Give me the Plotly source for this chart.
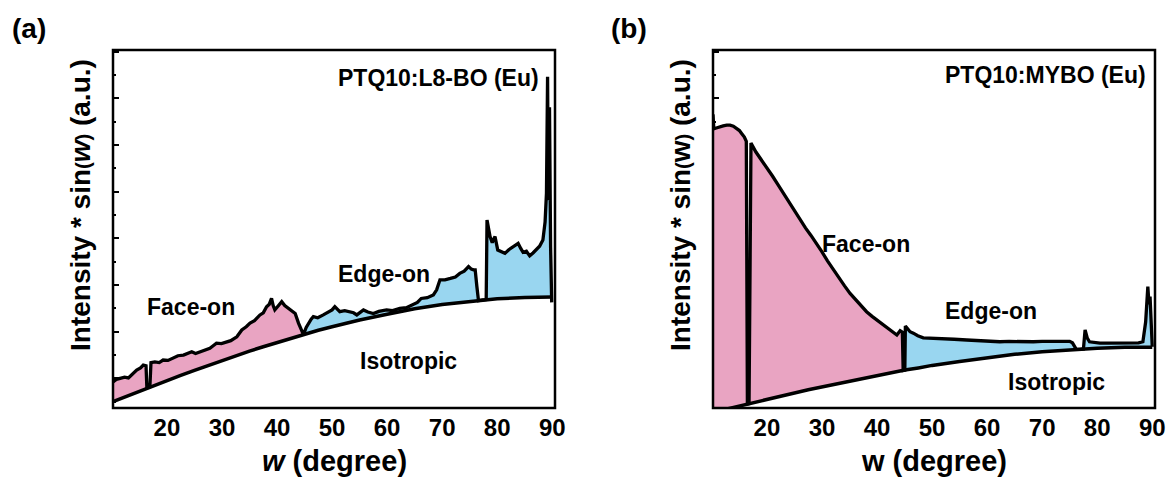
import numpy as np
import plotly.graph_objects as go

# ---------------- data: panel (a) PTQ10:L8-BO (Eu) ----------------
a_w = [10.2, 10.8, 11.5, 12.3, 13.0, 13.9, 14.5, 15.2, 15.7, 16.2, 16.35, 16.55, 16.9, 17.1,
       17.8, 18.6, 19.3, 20.2, 21.2, 22.0, 23.0, 23.8, 24.5, 25.2, 26.0, 26.8, 27.8, 28.4,
       29.0, 29.9, 30.85, 31.6, 32.7, 33.2, 33.6, 34.4, 35.1, 35.9, 36.9, 37.5, 38.1, 38.6,
       39.0, 39.3, 39.6, 40.2, 40.85, 41.4, 42.05, 42.7, 43.3, 43.9, 44.4, 44.8,
       45.3, 45.7, 46.2, 46.6, 47.4, 48.4, 49.3, 50.0, 50.5, 51.0, 51.4, 52.3, 53.2, 53.9,
       54.5, 55.1, 55.7, 56.5, 57.5, 58.5, 59.9, 61.0, 62.3, 63.5, 64.7, 65.5, 66.2, 67.3,
       68.4, 69.0, 69.6, 70.5, 71.5, 72.4, 73.2, 74.0, 74.8, 75.3, 75.7, 76.0, 76.3, 76.6,
       77.4, 78.0, 78.15, 78.4, 78.7, 79.1, 79.6, 80.1, 80.7, 81.4, 82.1, 82.9, 83.8, 84.3,
       84.7, 85.3, 85.9, 86.5, 87.1, 87.7, 88.3, 88.7, 88.95, 89.15, 89.3, 89.5, 89.7, 89.9]
a_total = [0.73, 0.80, 0.83, 0.86, 0.84, 0.97, 1.06, 1.12, 1.20, 1.18, 0.58, 0.57, 0.59, 1.27,
           1.29, 1.27, 1.34, 1.33, 1.40, 1.46, 1.48, 1.53, 1.57, 1.52, 1.57, 1.60, 1.67, 1.74,
           1.81, 1.80, 1.85, 1.88, 1.99, 2.10, 2.18, 2.27, 2.37, 2.44, 2.60, 2.66, 2.83, 2.90,
           3.06, 2.86, 2.74, 2.85, 2.97, 2.86, 2.78, 2.72, 2.64, 2.37, 2.16, 2.05,
           2.25, 2.37, 2.48, 2.55, 2.52, 2.60, 2.68, 2.74, 2.83, 2.76, 2.69, 2.72, 2.69, 2.66,
           2.60, 2.66, 2.74, 2.68, 2.64, 2.70, 2.74, 2.72, 2.78, 2.80, 2.88, 2.95, 3.06, 3.08,
           3.16, 3.30, 3.58, 3.58, 3.62, 3.66, 3.76, 3.82, 3.95, 3.88, 3.86, 3.86, 3.40, 3.00,
           3.02, 3.03, 5.25, 5.00, 4.79, 4.62, 4.79, 4.41, 4.36, 4.32, 4.42, 4.51, 4.60, 4.45,
           4.35, 4.38, 4.25, 4.33, 4.41, 4.52, 4.69, 5.20, 6.00, 9.25, 5.80, 8.40, 4.50, 2.95]
a_iso_w = [10.2, 12.5, 15.0, 16.5, 17.5, 20.0, 22.5, 25.0, 27.5, 30.0, 32.5, 35.0, 37.5, 40.0,
           42.5, 44.8, 47.5, 50.0, 55.0, 60.0, 65.0, 70.0, 75.0, 80.0, 85.0, 89.9]
a_iso = [0.18, 0.32, 0.47, 0.56, 0.62, 0.77, 0.91, 1.05, 1.19, 1.32, 1.46, 1.59, 1.71, 1.83,
         1.95, 2.05, 2.17, 2.27, 2.46, 2.62, 2.77, 2.89, 2.98, 3.05, 3.09, 3.10]
a_face_end, a_edge_start = 44.8, 44.8

# ---------------- data: panel (b) PTQ10:MYBO (Eu) ----------------
b_w = [10.2, 10.35, 10.8, 11.5, 12.05, 12.7, 13.3, 13.9, 14.5, 15.0, 15.4, 15.9, 16.25, 16.45,
       16.75, 17.1, 18.0, 18.9, 19.95, 21.0, 22.0, 22.96, 24.0, 25.0, 26.0, 27.0, 28.0, 29.0,
       30.0, 31.0, 32.1, 33.1, 34.1, 35.1, 36.1, 37.1, 38.1, 39.1, 40.1, 41.15, 42.2, 43.0,
       43.6, 44.2, 44.6, 44.75, 45.05, 45.15, 45.6, 46.0, 46.6, 47.4, 48.4, 49.3, 50.2, 52.0,
       54.0, 56.3, 58.0, 60.0, 62.3, 64.0, 66.0, 68.4, 70.0, 72.0, 73.9, 75.0, 75.5, 76.2,
       77.0, 77.5, 77.8, 78.2, 78.6, 79.5, 80.5, 82.0, 83.5, 85.0, 86.5, 87.5, 88.3, 88.8,
       89.2, 89.4, 89.6, 89.8, 90.0]
b_total = [8.20, 7.80, 7.82, 7.86, 7.88, 7.90, 7.90, 7.87, 7.81, 7.75, 7.67, 7.57, 7.45, 0.11,
           0.12, 7.40, 7.15, 6.95, 6.74, 6.48, 6.24, 6.00, 5.75, 5.50, 5.25, 5.03, 4.82, 4.60,
           4.36, 4.11, 3.85, 3.62, 3.41, 3.20, 3.02, 2.85, 2.69, 2.56, 2.44, 2.32, 2.20, 2.10,
           2.04, 2.16, 2.12, 1.05, 1.06, 2.29, 2.20, 2.13, 2.09, 2.02, 1.96, 1.95, 1.94, 1.93,
           1.92, 1.90, 1.88, 1.87, 1.85, 1.86, 1.85, 1.85, 1.86, 1.86, 1.87, 1.86, 1.82, 1.64,
           1.645, 1.65, 2.18, 1.95, 1.85, 1.82, 1.81, 1.81, 1.81, 1.80, 1.81, 1.82, 1.85, 2.40,
           3.39, 2.90, 3.11, 2.30, 1.71]
b_iso_w = [10.2, 12.5, 15.0, 16.45, 16.75, 17.5, 20.0, 22.5, 25.0, 27.5, 30.0, 32.5, 35.0, 37.5,
           40.0, 42.5, 44.75, 45.05, 47.5, 50.0, 55.0, 60.0, 65.0, 70.0, 75.0, 80.0, 85.0, 90.0]
b_iso = [-0.12, -0.04, 0.06, 0.11, 0.12, 0.15, 0.24, 0.33, 0.42, 0.51, 0.59, 0.68, 0.76, 0.84,
         0.91, 0.98, 1.05, 1.06, 1.12, 1.19, 1.30, 1.41, 1.50, 1.57, 1.63, 1.67, 1.70, 1.70]
b_face_end, b_edge_start = 44.75, 45.05

x_ticks = [20, 30, 40, 50, 60, 70, 80, 90]
PINK = "#E9A4C2"
BLUE = "#99D6F0"
FONT = "Liberation Sans, Arial, Helvetica, sans-serif"
W, H = 1172, 484

fig = go.Figure()


def add_panel(w, total, iw, iso, face_end, edge_start, xa, ya):
    w = np.asarray(w); total = np.asarray(total)
    iw = np.asarray(iw); iso = np.asarray(iso)
    segs = [(w <= face_end, iw <= face_end, PINK),
            (w >= edge_start, iw >= edge_start, BLUE)]
    for mt, mi, col in segs:
        fig.add_trace(go.Scatter(x=iw[mi], y=iso[mi], mode="lines", line=dict(width=0),
                                 hoverinfo="skip", showlegend=False, xaxis=xa, yaxis=ya))
        fig.add_trace(go.Scatter(x=w[mt], y=total[mt], mode="lines", line=dict(width=0),
                                 fill="tonexty", fillcolor=col, hoverinfo="skip",
                                 showlegend=False, xaxis=xa, yaxis=ya))
    fig.add_trace(go.Scatter(x=iw, y=iso, mode="lines", line=dict(color="black", width=3.5),
                             showlegend=False, xaxis=xa, yaxis=ya, name="Isotropic"))
    fig.add_trace(go.Scatter(x=w, y=total, mode="lines",
                             line=dict(color="black", width=3.3, shape="linear"),
                             showlegend=False, xaxis=xa, yaxis=ya, name="Total"))


add_panel(a_w, a_total, a_iso_w, a_iso, a_face_end, a_edge_start, "x", "y")
add_panel(b_w, b_total, b_iso_w, b_iso, b_face_end, b_edge_start, "x2", "y2")

# geometry (pixels)
top, bottom = 50, 408
a_l, a_r = 113, 555
b_l, b_r = 713, 1155
ydom = [1 - bottom / H, 1 - top / H]

xcommon = dict(range=[10.2, 90.5], tickvals=x_ticks, ticks="", showgrid=False,
               zeroline=False, showline=False, automargin=False, ticklabelstandoff=3,
               tickfont=dict(family=FONT, size=24, color="black", weight="bold"))
ycommon = dict(range=[0, 10], showticklabels=False, showgrid=False, zeroline=False,
               showline=False, automargin=False,
               ticks="inside", ticklen=6, tickwidth=2, tickcolor="black",
               tick0=0.826, dtick=1.304, layer="below traces",
               minor=dict(ticks="inside", ticklen=3, tickwidth=2, tickcolor="black",
                          tick0=0.174, dtick=0.652, showgrid=False))

fig.update_layout(
    width=W, height=H, margin=dict(l=0, r=0, t=0, b=0, autoexpand=False),
    paper_bgcolor="white", plot_bgcolor="white",
    xaxis=dict(domain=[a_l / W, a_r / W], anchor="y", **xcommon),
    yaxis=dict(domain=ydom, anchor="x", **ycommon),
    xaxis2=dict(domain=[b_l / W, b_r / W], anchor="y2", **xcommon),
    yaxis2=dict(domain=ydom, anchor="x2", **ycommon),
)

for xr, yr in [("x domain", "y domain"), ("x2 domain", "y2 domain")]:
    fig.add_shape(type="rect", xref=xr, yref=yr, x0=0, x1=1, y0=0, y1=1,
                  line=dict(color="black", width=2.5), layer="above")


def ann(text, px, py, size, xanchor="center", yanchor="middle", angle=0):
    fig.add_annotation(text=text, x=px / W, y=1 - py / H, xref="paper", yref="paper",
                       showarrow=False, xanchor=xanchor, yanchor=yanchor, textangle=angle,
                       font=dict(family=FONT, size=size, color="black", weight="bold"))


sm = "<span style='font-size:20px'>"
ann("(a)", 29, 29, 28)
ann("(b)", 629, 29, 28)
ann("Intensity * sin" + sm + "(</span><i>w</i>" + sm + ")</span> (a.u.)", 80, 205, 28, angle=-90)
ann("Intensity * sin" + sm + "(</span>w" + sm + ")</span> (a.u.)", 680, 205, 28, angle=-90)
ann("<i>w</i> (degree)", 334, 461, 29)
ann("w (degree)", 934, 461, 29)
ann("PTQ10:L8-BO (Eu)", 541, 78, 23, xanchor="right")
ann("PTQ10:MYBO (Eu)", 1148, 75, 23, xanchor="right")
ann("Face-on", 191, 307, 23)
ann("Edge-on", 384, 274, 23)
ann("Isotropic", 409, 361, 23)
ann("Face-on", 866, 244, 23)
ann("Edge-on", 991, 311, 23)
ann("Isotropic", 1056, 382, 23)

fig.write_html("out.html")
